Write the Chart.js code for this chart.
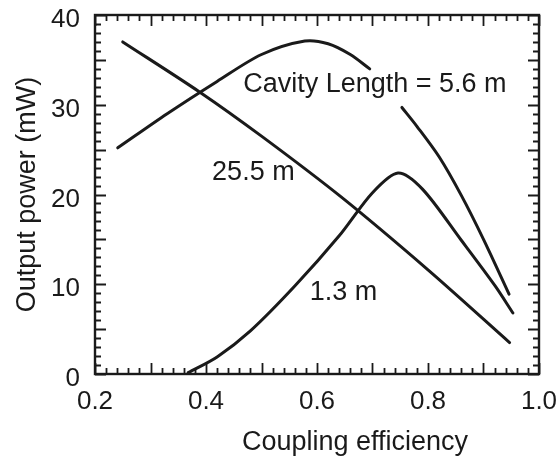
<!DOCTYPE html>
<html>
<head>
<meta charset="utf-8">
<script src="https://cdn.jsdelivr.net/npm/chart.js@4/dist/chart.umd.min.js"></script>
<style>
  html, body { margin: 0; padding: 0; background: #ffffff; }
  #wrap { width: 560px; height: 470px; position: relative; }
</style>
</head>
<body>
<div id="wrap"><canvas id="c" width="560" height="470"></canvas></div>
<script>
// ---- data ----
const xTickLabels = [0.2, 0.4, 0.6, 0.8, 1.0];
const yTickLabels = [0, 10, 20, 30, 40];

const x_25_5 = [0.250, 0.389, 0.500, 0.644, 0.800, 0.947];
const y_25_5 = [37.0, 31.4, 26.5, 19.7, 11.6, 3.5];

const x_5_6 = [0.241, 0.330, 0.420, 0.500, 0.578, 0.620, 0.660, 0.695, 0.724, 0.753, 0.780, 0.820, 0.860, 0.900, 0.946];
const y_5_6 = [25.2, 29.0, 32.6, 35.6, 37.1, 36.8, 35.6, 34.0, null, 29.7, 27.6, 24.2, 19.9, 15.0, 8.9];

const x_1_3 = [0.368, 0.420, 0.480, 0.560, 0.640, 0.700, 0.746, 0.790, 0.860, 0.920, 0.953];
const y_1_3 = [0.15, 1.9, 4.8, 9.8, 15.4, 20.2, 22.4, 20.6, 14.9, 9.9, 6.8];

const curveLabels = ['Cavity Length = 5.6 m', '25.5 m', '1.3 m'];
const curveLabelX = [0.467, 0.411, 0.587];
const curveLabelY = [32.3, 22.5, 9.1];

const xTitle = 'Coupling efficiency';
const yTitle = 'Output power (mW)';

// ---- helpers ----
const INK = '#1a1a1a';
const FONT = '"Liberation Sans", Arial, Helvetica, sans-serif';
const toPts = (xs, ys) => xs.map((x, i) => ({ x: x, y: ys[i] }));
const isMult = (v, s) => Math.abs(v / s - Math.round(v / s)) < 1e-6;

function ds(xs, ys) {
  return {
    data: toPts(xs, ys),
    borderColor: INK,
    borderWidth: 3,
    pointRadius: 0,
    fill: false,
    spanGaps: false,
    tension: 0.3,
    borderCapStyle: 'round',
    borderJoinStyle: 'round'
  };
}

const framePlugin = {
  id: 'frame',
  afterDraw(chart) {
    const { ctx, chartArea: a, scales } = chart;
    const xs = scales.x, ys = scales.y;
    ctx.save();
    ctx.strokeStyle = INK;
    ctx.lineWidth = 1.8;
    ctx.beginPath();
    xs.ticks.forEach(t => {
      const px = Math.round(xs.getPixelForValue(t.value)) + 0.5;
      const L = isMult(t.value, 0.1) ? 11 : 6;
      ctx.moveTo(px, a.bottom); ctx.lineTo(px, a.bottom - L);
      ctx.moveTo(px, a.top); ctx.lineTo(px, a.top + L);
    });
    ys.ticks.forEach(t => {
      const py = Math.round(ys.getPixelForValue(t.value)) + 0.5;
      const L = isMult(t.value, 5) ? 11 : 6;
      ctx.moveTo(a.left, py); ctx.lineTo(a.left + L, py);
      ctx.moveTo(a.right, py); ctx.lineTo(a.right - L, py);
    });
    ctx.stroke();
    ctx.lineWidth = 2.4;
    ctx.strokeRect(a.left, a.top, a.right - a.left, a.bottom - a.top);

    // curve labels
    ctx.fillStyle = INK;
    ctx.font = '27px ' + FONT;
    ctx.textAlign = 'left';
    ctx.textBaseline = 'middle';
    curveLabels.forEach((txt, i) => {
      ctx.fillText(txt, xs.getPixelForValue(curveLabelX[i]), ys.getPixelForValue(curveLabelY[i]));
    });

    // x axis title
    ctx.textAlign = 'center';
    ctx.fillText(xTitle, 355, 443);
    ctx.restore();
  }
};

new Chart(document.getElementById('c'), {
  type: 'line',
  data: {
    datasets: [ds(x_5_6, y_5_6), ds(x_25_5, y_25_5), ds(x_1_3, y_1_3)]
  },
  options: {
    responsive: false,
    animation: false,
    devicePixelRatio: 1,
    layout: { padding: 0 },
    plugins: { legend: { display: false }, tooltip: { enabled: false } },
    scales: {
      x: {
        type: 'linear',
        min: 0.2, max: 1.0,
        grid: { display: false },
        border: { display: false },
        afterFit: s => { s.height = 96; s.paddingLeft = 0; s.paddingRight = 21; },
        ticks: {
          stepSize: 0.02,
          maxTicksLimit: 200,
          autoSkip: false,
          maxRotation: 0, minRotation: 0,
          padding: 4,
          color: INK,
          font: { family: FONT, size: 26 },
          callback: v => xTickLabels.some(l => Math.abs(l - v) < 1e-6) ? Number(v).toFixed(1) : ''
        }
      },
      y: {
        min: 0, max: 40,
        grid: { display: false },
        border: { display: false },
        afterFit: s => { s.width = 95; s.paddingTop = 15; s.paddingBottom = 0; },
        title: {
          display: true,
          text: yTitle,
          color: INK,
          font: { family: FONT, size: 27 },
          padding: { top: 11, bottom: 0 }
        },
        ticks: {
          stepSize: 1,
          maxTicksLimit: 200,
          autoSkip: false,
          padding: 7,
          labelOffset: 5,
          color: INK,
          font: { family: FONT, size: 26 },
          callback: v => yTickLabels.includes(Math.round(v)) && isMult(v, 10) ? String(Math.round(v)) : ''
        }
      }
    }
  },
  plugins: [framePlugin]
});
</script>
</body>
</html>
